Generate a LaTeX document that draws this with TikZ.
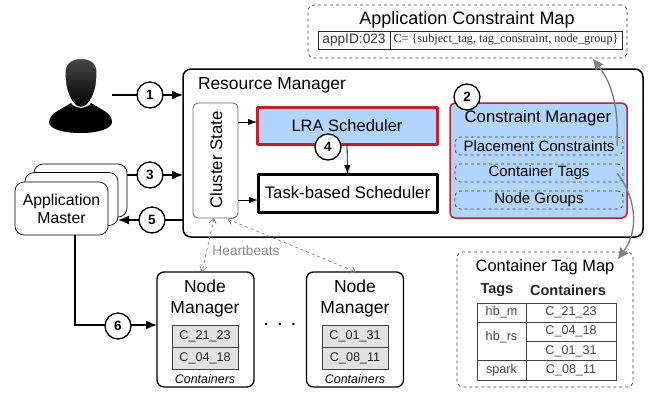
\documentclass[tikz,border=0pt]{standalone}
\usepackage{fontspec}
\setmainfont{Liberation Sans}
\newfontfamily\mapserif{Liberation Serif}
\usetikzlibrary{positioning,arrows.meta}
\definecolor{lrablue}{RGB}{178,213,255}
\definecolor{lrared}{RGB}{196,32,46}
\definecolor{celltext}{RGB}{70,70,70}
\definecolor{cellgrey}{RGB}{226,226,226}
\newcommand{\fs}[1]{\fontsize{#1}{20}\selectfont}
\tikzset{
  every node/.style={inner sep=0pt, outer sep=0pt},
  box/.style={draw, rounded corners=#1, align=center},
  box/.default=7pt,
  stepmark/.style={circle, draw, fill=white, line width=1.3pt, minimum size=26pt, font=\bfseries\fs{13.5}},
  flow/.style={line width=1.4pt, -{Latex[length=11pt,width=9pt]}},
  thin flow/.style={line width=0.8pt, -{Latex[length=9pt,width=6.5pt]}},
  heartbeat/.style={draw=gray, dashed, line width=0.7pt, {Straight Barb[length=5pt,width=7pt]}-{Straight Barb[length=5pt,width=7pt]}},
  maparrow/.style={draw=gray, line width=1.4pt, -{Stealth[length=11pt,width=10pt,inset=1.5pt]}},
  dashbox/.style={draw=black!75, dashed, line width=0.7pt, rounded corners=6pt},
  subbox/.style={dashbox, rounded corners=5pt, minimum width=168pt, minimum height=18pt, font=\fs{15}},
  nmbox/.style={box, line width=1.3pt, minimum width=97pt, minimum height=115pt},
  nmtitle/.style={font=\fontsize{17.5}{21}\selectfont, align=center},
  nmcell/.style={draw=black!75, fill=cellgrey, minimum width=66pt, minimum height=22pt, font=\fs{12.6}, text=black!85},
  tagcell/.style={draw=black!75, minimum height=19.2pt, font=\fs{12.6}, text=celltext},
  amcard/.style={box=9pt, fill=white, line width=0.7pt, minimum width=93pt, minimum height=53pt}
}
\begin{document}
\begin{tikzpicture}[x=1pt, y=-1pt]
  \useasboundingbox (0,0) rectangle (651,392);

  % user
  \fill (49,122) .. controls (50,113) and (60,110) .. (71,103)
    .. controls (74,109) and (88,109) .. (91,103)
    .. controls (102,110) and (112,113) .. (112,122)
    .. controls (112,128) and (100,133) .. (81,133)
    .. controls (60,133) and (49,128) .. (49,122) -- cycle;
  \path[draw=white, line width=1pt, top color=black!72, bottom color=black]
    (65,72) .. controls (65,63) and (72,58.5) .. (81,58.5)
    .. controls (91,58.5) and (97,63) .. (97,72)
    .. controls (97,80) and (96,87) .. (95,90)
    .. controls (92,100) and (87,107.5) .. (81,107.5)
    .. controls (75,107.5) and (70,100) .. (67,90)
    .. controls (66,87) and (65,80) .. (65,72) -- cycle;
  \coordinate (user) at (112,95);

  % resource manager
  \node[box=8pt, line width=1.5pt, minimum width=460pt, minimum height=168pt] (rm) at (413,153) {};
  \node[anchor=west, font=\fs{17.4}] (rmtitle) at (198,85) {Resource Manager};
  \node[box=5pt, draw=black!60, line width=0.8pt, minimum width=45pt, minimum height=115pt] (state) at (215.5,160.5) {};
  \node[rotate=90, font=\fs{16.8}] (statetext) at (216,160) {Cluster State};
  \node[draw=lrared, fill=lrablue, line width=3pt, line join=round, minimum width=180pt, minimum height=37pt, font=\fs{16.5}] (lra) at (347,125.5) {LRA Scheduler};
  \node[draw, line width=3pt, line join=round, minimum width=179pt, minimum height=38pt, font=\fs{16.7}] (task) at (347.5,193) {Task-based Scheduler};
  \draw[thin flow] (lra.south) -- (task.north);
  \coordinate (statea) at (238,122);
  \coordinate (stateb) at (238,200);
  \draw[thin flow] (statea) -- (statea -| lra.west);
  \draw[thin flow] (stateb) -- (stateb -| task.west);
  \node[stepmark] (four) at (328,147) {4};

  % constraint manager
  \node[box=5pt, draw=lrared, fill=lrablue, line width=1.5pt, minimum width=177pt, minimum height=115pt] (cm) at (538.5,160.5) {};
  \node[font=\fs{16.7}] (cmtitle) at (538,118) {Constraint Manager};
  \node[subbox] (placement) at (539,146) {Placement Constraints};
  \node[subbox] (tags) at (539,173) {Container Tags};
  \node[subbox] (groups) at (539,200) {Node Groups};
  \node[stepmark] (two) at (467,97) {2};

  % application constraint map
  \node[dashbox, minimum width=319pt, minimum height=53pt] (acm) at (467.5,31.5) {};
  \node[font=\fs{18}] (acmtitle) at (467,20) {Application Constraint Map};
  \node[draw=black!85, line width=0.7pt, minimum width=72pt, minimum height=18pt, font=\fs{13.7}, text=black!80] (appid) at (354,40) {appID:023};
  \node[draw=black!85, line width=0.7pt, minimum width=232pt, minimum height=18pt, right=0pt of appid, font=\mapserif\fs{12.2}, text=black!85] (appc) {C= \{subject\_tag, tag\_constraint, node\_group\}};

  % container tag map
  \node[dashbox, minimum width=176pt, minimum height=135pt] (ctm) at (545,319.5) {};
  \node[font=\fs{16.4}] (ctmtitle) at (545,267) {Container Tag Map};
  \node[font=\bfseries\fs{14.5}, text=black!85] (tagshead) at (497,290) {Tags};
  \node[font=\bfseries\fs{14.5}, text=black!85] (conthead) at (568,290) {Containers};
  \node[tagcell, minimum width=49pt] (hbm) at (501.5,312.6) {hb\_m};
  \node[tagcell, minimum width=49pt, minimum height=38.4pt, text height=18pt, text depth=20.4pt] (hbrs) [below=0pt of hbm] {hb\_rs};
  \node[tagcell, minimum width=49pt] (spark) [below=0pt of hbrs] {spark};
  \node[tagcell, minimum width=90pt] (ca) [right=0pt of hbm] {C\_21\_23};
  \node[tagcell, minimum width=90pt] (cb) [below=0pt of ca] {C\_04\_18};
  \node[tagcell, minimum width=90pt] (cc) [below=0pt of cb] {C\_01\_31};
  \node[tagcell, minimum width=90pt] (cd) [below=0pt of cc] {C\_08\_11};

  % map arrows
  \draw[maparrow] ([xshift=-6pt]placement.east) .. controls (619,105) and (611,82) .. ([xshift=125.5pt,yshift=-1pt]acm.south);
  \draw[maparrow] ([xshift=-6pt]tags.east) .. controls (631,190) and (643,225) .. ([xshift=73pt,yshift=-7pt]ctm.north);

  % application master
  \node[amcard] (amc) at (80.5,190.5) {};
  \node[amcard] (amb) at (71.5,199) {};
  \node[amcard, font=\fontsize{15.8}{18}\selectfont] (ama) at (61.5,208.5) {Application\\Master};

  % node managers
  \node[nmbox] (nma) at (205.5,329.5) {};
  \node[nmtitle] (nmatext) at (205,298.5) {Node\\Manager};
  \node[nmcell] (nmaone) at (205,336) {C\_21\_23};
  \node[nmcell] (nmatwo) [below=0pt of nmaone] {C\_04\_18};
  \node[font=\itshape\fs{12.5}] (nmalabel) at (205,379) {Containers};
  \node[nmbox] (nmb) at (355,329.5) {};
  \node[nmtitle] (nmbtext) at (355,298.5) {Node\\Manager};
  \node[nmcell] (nmbone) at (355,336) {C\_01\_31};
  \node[nmcell] (nmbtwo) [below=0pt of nmbone] {C\_08\_11};
  \node[font=\itshape\fs{12.5}] (nmblabel) at (355,379) {Containers};
  \node[font=\fs{21}] (dots) at (280,324) {. . .};

  % heartbeats
  \draw[heartbeat] ([xshift=-1.5pt]state.south) -- ([xshift=-3.5pt]nma.north);
  \draw[heartbeat] ([xshift=12pt,yshift=-1pt]state.south) -- ([xshift=1pt]nmb.north);
  \node[font=\fs{13.7}, text=black!45] (beats) at (246,251) {Heartbeats};

  % steps
  \draw[flow] (user) -- (user -| rm.west);
  \node[stepmark] (one) at (150,95) {1};
  \coordinate (amout) at (127,175);
  \draw[flow] (amout) -- (amout -| rm.west);
  \node[stepmark] (three) at (150,175) {3};
  \coordinate (rmout) at (183,220);
  \draw[flow] (rmout) -- (rmout -| amb.east);
  \node[stepmark] (five) at (152,220) {5};
  \coordinate (amdown) at (75,235);
  \coordinate (nmin) at (75,325);
  \draw[flow] (amdown) -- (nmin) -- (nma.west |- nmin);
  \node[stepmark] (six) at (118,326) {6};
\end{tikzpicture}
\end{document}
